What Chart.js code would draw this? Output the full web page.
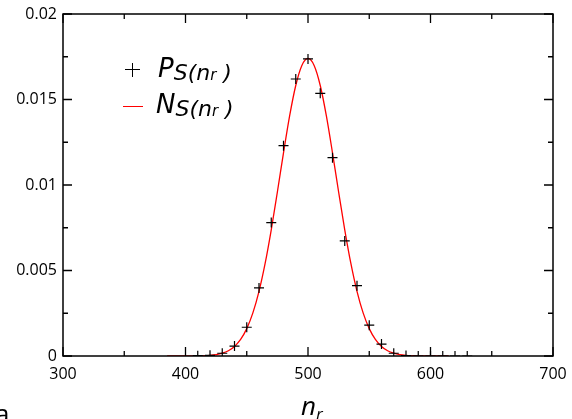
<!DOCTYPE html>
<html>
<head>
<meta charset="utf-8">
<script src="https://cdn.jsdelivr.net/npm/chart.js@4.4.1/dist/chart.umd.min.js"></script>
<style>
    body { margin: 0; background: #fff; }
    #wrap { position: relative; width: 572px; height: 419px; overflow: hidden; font-family: 'Open Sans', sans-serif; }
    .lbl { position: absolute; line-height: 1; font-style: italic; color: #000; white-space: nowrap; }
    .leg { font-family: 'DejaVu Sans', sans-serif; font-size: 26px; }
    .leg .s { font-size: 22px; position: relative; top: 3px; }
    .leg .r { font-size: 15px; }
    .mk { position: absolute; }
</style>
</head>
<body>
<div id="wrap">
    <canvas id="chart" width="572" height="419"></canvas>

    <!-- legend -->
    <div class="mk" style="left:125px; top:69px; width:15px; height:1.3px; background:#000;"></div>
    <div class="mk" style="left:132px; top:63px; width:1.3px; height:14px; background:#000;"></div>
    <div class="lbl leg" style="left:158px; top:55px;">P<span class="s">S(n<span class="r">r</span> )</span></div>

    <div class="mk" style="left:123px; top:106px; width:20px; height:1.3px; background:#ff0000;"></div>
    <div class="lbl leg" style="left:156px; top:91px;">N<span class="s">S(n<span class="r">r</span> )</span></div>

    <!-- x axis title -->
    <div class="lbl" style="left:301px; top:392px; font-size:26px;">n<span style="font-size:17px; position:relative; top:5px;">r</span></div>

    <!-- panel caption, cut by the bottom edge -->
    <div class="lbl" style="left:-5px; top:400px; font-size:26px; font-style:normal;">a.</div>
</div>

<script>
// simulated distribution P_S(n_r), one point every 10
const pointsX = [410, 420, 430, 440, 450, 460, 470, 480, 490, 500, 510, 520,
    530, 540, 550, 560, 570, 580, 590, 600, 610, 620, 630];
const pointsY = [0.00002, 0.00004, 0.00016, 0.00058, 0.00168, 0.00398, 0.0078, 0.0123,
    0.0162, 0.01737, 0.01536, 0.0116, 0.00673, 0.00411, 0.0018, 0.0007, 0.00016,
    0.00003, 0, 0, 0, 0, 0];

// normal curve N_S(n_r)
const curveX = [385, 390, 395, 400, 405, 410, 415, 420, 425, 430, 435, 440, 445, 450,
    455, 460, 465, 470, 475, 480, 485, 490, 495, 500, 505, 510, 515, 520, 525, 530,
    535, 540, 545, 550, 555, 560, 565, 570, 575, 580, 585, 590, 595, 600, 605, 610, 615];
const curveY = [0, 0, 0.0000005, 0.000001, 0.000003, 0.0000077, 0.000018, 0.000039,
    0.000081, 0.000163, 0.00031, 0.00056, 0.00097, 0.0016, 0.00252, 0.00378, 0.00541,
    0.00738, 0.00959, 0.01188, 0.01404, 0.01582, 0.01699, 0.0174, 0.01699, 0.01582,
    0.01404, 0.01188, 0.00959, 0.00738, 0.00541, 0.00378, 0.00252, 0.0016, 0.00097,
    0.00056, 0.00031, 0.000163, 0.000081, 0.000039, 0.000018, 0.0000077, 0.000003,
    0.000001, 0.0000005, 0, 0];

// axis ticks
const xTicks = [300, 400, 500, 600, 700];
const xMinorTicks = [350, 450, 550, 650];
const yTicks = [0, 0.005, 0.01, 0.015, 0.02];
const yMinorTicks = [0.0025, 0.0075, 0.0125, 0.0175];

Chart.defaults.font.family = "'Open Sans', sans-serif";
Chart.defaults.font.size = 16;
Chart.defaults.color = '#000';

// frame with inward ticks on all four sides
const frame = {
    id: 'frame',
    afterDraw(chart) {
        const { ctx, chartArea: a, scales: { x, y } } = chart;
        ctx.save();
        ctx.strokeStyle = '#000';
        ctx.lineWidth = 1.5;
        ctx.strokeRect(a.left, a.top, a.right - a.left, a.bottom - a.top);
        ctx.lineWidth = 1.3;
        ctx.beginPath();
        const xt = (v, len) => {
            const px = x.getPixelForValue(v);
            ctx.moveTo(px, a.bottom); ctx.lineTo(px, a.bottom - len);
            ctx.moveTo(px, a.top); ctx.lineTo(px, a.top + len);
        };
        const yt = (v, len) => {
            const py = y.getPixelForValue(v);
            ctx.moveTo(a.left, py); ctx.lineTo(a.left + len, py);
            ctx.moveTo(a.right, py); ctx.lineTo(a.right - len, py);
        };
        xTicks.forEach(v => xt(v, 9));
        xMinorTicks.forEach(v => xt(v, 5));
        yTicks.forEach(v => yt(v, 9));
        yMinorTicks.forEach(v => yt(v, 5));
        ctx.stroke();
        ctx.restore();
    }
};

new Chart(document.getElementById('chart'), {
    type: 'scatter',
    data: {
        datasets: [
            {
                label: 'P_S(n_r)',
                data: pointsX.map((v, i) => ({ x: v, y: pointsY[i] })),
                pointStyle: 'cross',
                pointRadius: 5,
                borderColor: '#000',
                borderWidth: 1.2,
                showLine: false
            },
            {
                label: 'N_S(n_r)',
                data: curveX.map((v, i) => ({ x: v, y: curveY[i] })),
                showLine: true,
                borderColor: '#ff0000',
                borderWidth: 1.3,
                pointRadius: 0,
                cubicInterpolationMode: 'monotone'
            }
        ]
    },
    options: {
        responsive: false,
        animation: false,
        layout: { padding: { top: 14, right: 19, left: 0, bottom: 0 } },
        plugins: {
            legend: { display: false },
            tooltip: { enabled: false }
        },
        scales: {
            x: {
                type: 'linear',
                min: 300,
                max: 700,
                grid: { display: false, drawTicks: false },
                border: { display: false },
                ticks: {
                    stepSize: 100,
                    padding: 9,
                    maxRotation: 0
                },
                afterFit: s => {
                    s.height = 63;
                    s.paddingLeft = 0;
                    s.paddingRight = 0;
                }
            },
            y: {
                min: 0,
                max: 0.02,
                grid: { display: false, drawTicks: false },
                border: { display: false },
                ticks: {
                    stepSize: 0.005,
                    padding: 6,
                    callback: v => String(+v.toFixed(4))
                },
                afterFit: s => {
                    s.width = 63;
                    s.paddingTop = 0;
                    s.paddingBottom = 0;
                }
            }
        }
    },
    plugins: [frame]
});
</script>
</body>
</html>
